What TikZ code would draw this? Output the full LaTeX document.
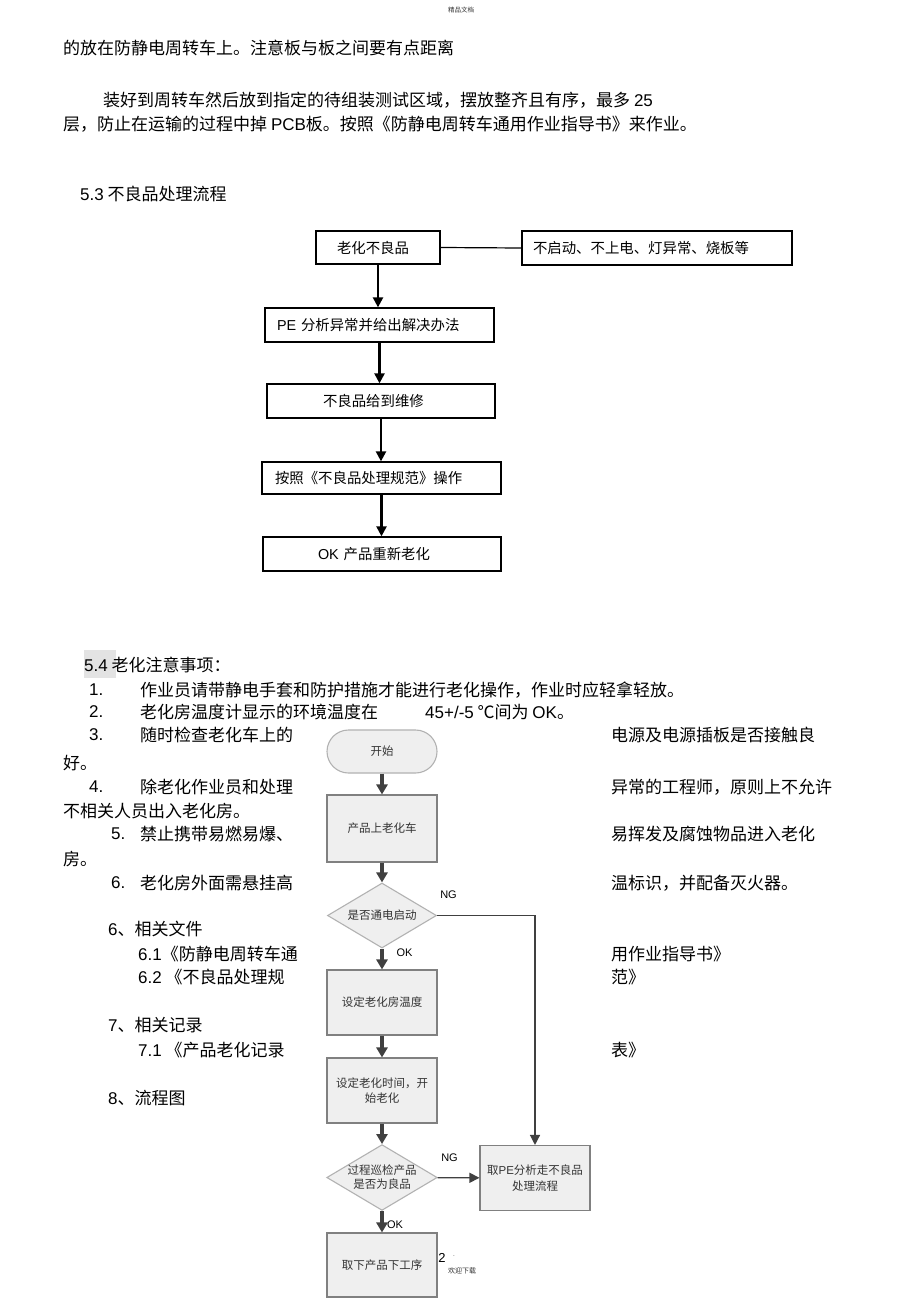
\documentclass[tikz,border=0pt]{standalone}
\usepackage{fontspec}
\setmainfont{Noto Sans CJK SC}
\newfontfamily\arialfont{Liberation Sans}
\newcommand{\enf}[1]{{\arialfont #1}}
\usetikzlibrary{shapes.geometric,arrows.meta}
\definecolor{boxgray}{HTML}{808080}
\definecolor{fillgray}{HTML}{EFEFEF}
\definecolor{arrowgray}{HTML}{404040}
\definecolor{textgray}{HTML}{333333}
\tikzset{
  para/.style={anchor=west,inner sep=0pt,font=\fontsize{17}{20}\selectfont},
  tinytext/.style={inner sep=0pt,text=textgray,font=\fontsize{6.5}{7}\selectfont},
  flowbox/.style={draw=black,line width=1.3pt,inner ysep=0pt,align=left,font=\fontsize{14.4}{16}\selectfont},
  flowarrow/.style={line width=2.3pt,-{Triangle[width=10pt,length=10pt]}},
  procbox/.style={draw=boxgray,fill=fillgray,line width=1.1pt,minimum width=110pt,minimum height=65pt,inner sep=2pt,align=center,text=textgray,font=\fontsize{11.5}{15.5}\selectfont},
  startbox/.style={procbox,draw=gray!60,minimum height=43pt,rounded corners=21.5pt},
  decbox/.style={diamond,aspect=1.68,draw=gray!60,fill=fillgray,line width=1.1pt,minimum width=109pt,minimum height=65pt,inner sep=0pt,align=center,text=textgray,font=\fontsize{11.5}{14}\selectfont},
  mainarrow/.style={draw=arrowgray,line width=3.2pt,-{Triangle[width=11pt,length=10pt]}},
  sidearrow/.style={draw=arrowgray,line width=1.3pt,-{Triangle[width=10pt,length=10pt]}},
  yesno/.style={inner sep=0pt,font=\arialfont\fontsize{11}{12}\selectfont}
}
\begin{document}
\begin{tikzpicture}[x=1pt,y=-1pt]
\path [draw=none,fill=white] (0,0) rectangle (920,1303);
\path [draw=none,fill=gray!22] (84,650) rectangle (116,678);

\node [tinytext] (hdr) at (461,10) {精品文档};
\node [para] (top1) at (63,48) {的放在防静电周转车上。注意板与板之间要有点距离};
\node [para] (top2) at (103,100) {装好到周转车然后放到指定的待组装测试区域，摆放整齐且有序，最多 \enf{25}};
\node [para] (top3) at (63,124) {层，防止在运输的过程中掉 \enf{PCB}板。按照《防静电周转车通用作业指导书》来作业。};
\node [para] (sec53) at (80,194) {\enf{5.3} 不良品处理流程};

\node [flowbox,minimum height=33pt,text width=82pt,inner xsep=21pt] (bad) at (378,247.5) {老化不良品};
\node [flowbox,minimum height=34pt,text width=248pt,inner xsep=11pt] (sym) at (657,248) {不启动、不上电、灯异常、烧板等};
\node [flowbox,minimum height=34pt,text width=205pt,inner xsep=12pt] (pe) at (379.5,325) {\enf{PE} 分析异常并给出解决办法};
\node [flowbox,minimum height=34pt,text width=116pt,inner xsep=56pt] (repair) at (381,401) {不良品给到维修};
\node [flowbox,minimum height=32pt,text width=213pt,inner xsep=13pt] (rule) at (381.5,478) {按照《不良品处理规范》操作};
\node [flowbox,minimum height=34pt,text width=128pt,inner xsep=55pt] (reage) at (382,554) {\enf{OK} 产品重新老化};
\draw [line width=1.2pt] (bad.east) to (sym.west);
\draw [flowarrow] (bad.south) to (bad.south |- pe.north);
\draw [flowarrow] (pe.south) to (pe.south |- repair.north);
\draw [flowarrow] (repair.south) to (repair.south |- rule.north);
\draw [flowarrow] (rule.south) to (rule.south |- reage.north);

\node [para] (sec54) at (84,665) {\enf{5.4} 老化注意事项：};
\node [para] (n1) at (89,690) {\enf{1.}};
\node [para] (i1) at (140,690) {作业员请带静电手套和防护措施才能进行老化操作，作业时应轻拿轻放。};
\node [para] (n2) at (89,712) {\enf{2.}};
\node [para] (i2a) at (140,712) {老化房温度计显示的环境温度在};
\node [para] (i2b) at (425,712) {\enf{45+/-5} ℃间为 \enf{OK}。};
\node [para] (n3) at (89,735) {\enf{3.}};
\node [para] (i3a) at (140,735) {随时检查老化车上的};
\node [para] (i3b) at (611,735) {电源及电源插板是否接触良};
\node [para] (i3c) at (63,763) {好。};
\node [para] (n4) at (89,787) {\enf{4.}};
\node [para] (i4a) at (140,787) {除老化作业员和处理};
\node [para] (i4b) at (611,787) {异常的工程师，原则上不允许};
\node [para] (i4c) at (63,811) {不相关人员出入老化房。};
\node [para] (n5) at (111,834) {\enf{5.}};
\node [para] (i5a) at (140,834) {禁止携带易燃易爆、};
\node [para] (i5b) at (611,834) {易挥发及腐蚀物品进入老化};
\node [para] (i5c) at (63,859) {房。};
\node [para] (n6) at (111,883) {\enf{6.}};
\node [para] (i6a) at (140,883) {老化房外面需悬挂高};
\node [para] (i6b) at (611,883) {温标识，并配备灭火器。};
\node [para] (s6) at (108,929) {\enf{6}、相关文件};
\node [para] (s61a) at (138,954) {\enf{6.1}《防静电周转车通};
\node [para] (s61b) at (611,954) {用作业指导书》};
\node [para] (s62a) at (138,977) {\enf{6.2} 《不良品处理规};
\node [para] (s62b) at (611,977) {范》};
\node [para] (s7) at (108,1025) {\enf{7}、相关记录};
\node [para] (s71a) at (138,1050) {\enf{7.1} 《产品老化记录};
\node [para] (s71b) at (611,1050) {表》};
\node [para] (s8) at (108,1098) {\enf{8}、流程图};

\node [startbox] (start) at (382,751.5) {开始};
\node [procbox,minimum height=67pt] (load) at (382,828.5) {产品上老化车};
\node [decbox] (power) at (382,915.5) {是否通电启动};
\node [procbox] (temp) at (382,1002.5) {设定老化房温度};
\node [procbox] (timer) at (382,1090.5) {设定老化时间，开\\始老化};
\node [decbox] (patrol) at (382,1177.5) {过程巡检产品\\是否为良品};
\node [procbox] (pe2) at (535,1178) {取\enf{PE}分析走不良品\\处理流程};
\node [procbox,minimum height=64pt] (unload) at (382,1265) {取下产品下工序};
\draw [mainarrow] (start) to (load);
\draw [mainarrow] (load) to (power);
\draw [mainarrow] (power) to (temp);
\draw [mainarrow] (temp) to (timer);
\draw [mainarrow] (timer) to (patrol);
\draw [mainarrow] (patrol) to (unload);
\draw [sidearrow] (patrol) to (pe2);
\draw [sidearrow] (power.east) -| (pe2.north);
\node [yesno] (ng1) at (448.5,895) {NG};
\node [yesno] (ok1) at (404.5,953) {OK};
\node [yesno] (ng2) at (449.5,1158) {NG};
\node [yesno] (ok2) at (395,1225) {OK};

\node [inner sep=0pt,font=\arialfont\fontsize{13}{14}\selectfont] (pageno) at (442,1258) {2};
\node [tinytext] (dot) at (454,1256) {.};
\node [tinytext,font=\fontsize{7}{8}\selectfont] (dl) at (462,1271) {欢迎下载};
\end{tikzpicture}
\end{document}
